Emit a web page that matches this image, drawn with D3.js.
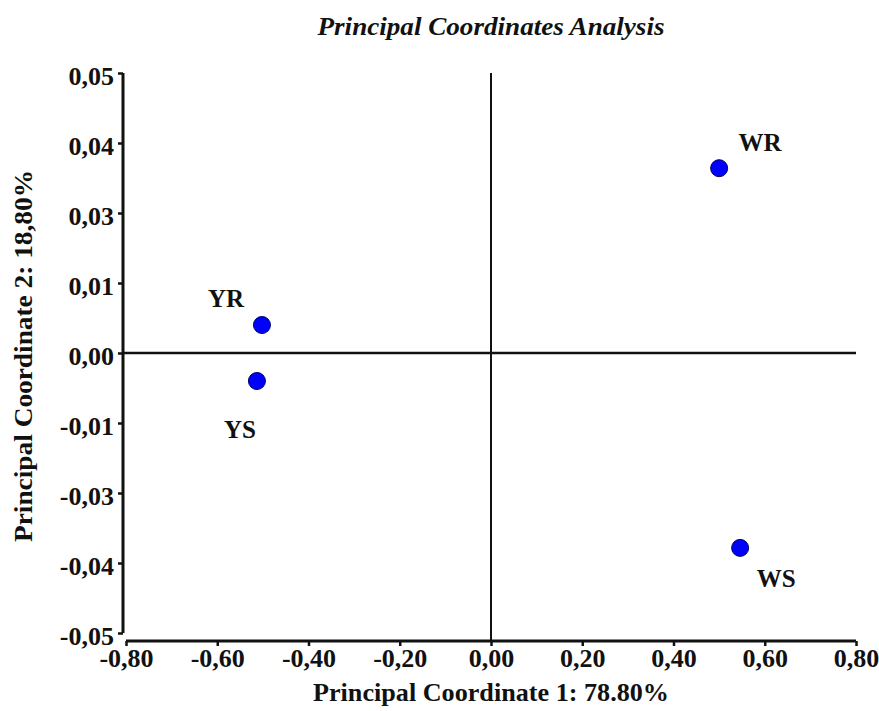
<!DOCTYPE html>
<html>
<head>
<meta charset="utf-8">
<script src="https://cdn.jsdelivr.net/npm/d3@7"></script>
<style>
  body { margin: 0; background: #fff; }
  text { font-family: "Liberation Serif", "Times New Roman", serif; font-weight: bold; fill: #111; }
</style>
</head>
<body>
<div id="chart"></div>
<script>
// sample names and their coordinates
const samples = ["WR", "WS", "YR", "YS"];
const pc1 = [0.50, 0.546, -0.502, -0.513];
const pc2 = [0.033, -0.0348, 0.005, -0.005];

// tick values and the labels printed on them
const xTicks = [-0.8, -0.6, -0.4, -0.2, 0, 0.2, 0.4, 0.6, 0.8];
const xTickLabels = ["-0,80", "-0,60", "-0,40", "-0,20", "0,00", "0,20", "0,40", "0,60", "0,80"];
const yTicks = [-0.05, -0.0375, -0.025, -0.0125, 0, 0.0125, 0.025, 0.0375, 0.05];
const yTickLabels = ["-0,05", "-0,04", "-0,03", "-0,01", "0,00", "0,01", "0,03", "0,04", "0,05"];

const width = 879, height = 711;

const svg = d3.select("#chart").append("svg")
  .attr("width", width)
  .attr("height", height);

const xScale = d3.scaleLinear().domain([-0.8, 0.8]).range([126, 856]);
const yScale = d3.scaleLinear().domain([-0.05, 0.05]).range([633, 73]);
const xAxisY = 641, yAxisX = 123;

// title
svg.append("text")
  .attr("x", 491).attr("y", 35)
  .attr("text-anchor", "middle")
  .attr("textLength", 347)
  .attr("lengthAdjust", "spacingAndGlyphs")
  .style("font-style", "italic")
  .style("font-size", "25px")
  .text("Principal Coordinates Analysis");

// y axis
const yAxis = svg.append("g")
  .attr("transform", `translate(${yAxisX},0)`)
  .call(d3.axisLeft(yScale).tickValues(yTicks).tickSize(5).tickPadding(4)
    .tickFormat((d, i) => yTickLabels[i]));

// x axis
const xAxis = svg.append("g")
  .attr("transform", `translate(0,${xAxisY})`)
  .call(d3.axisBottom(xScale).tickValues(xTicks).tickSize(5).tickPadding(3)
    .tickFormat((d, i) => xTickLabels[i]));

[xAxis, yAxis].forEach(ax => {
  ax.select(".domain").attr("stroke", "#111").attr("stroke-width", 3);
  ax.selectAll(".tick line").attr("stroke", "#111").attr("stroke-width", 2.5);
  ax.selectAll(".tick text")
    .style("font-family", "'Liberation Serif', serif")
    .style("font-weight", "bold")
    .style("font-size", "26px")
    .attr("fill", "#111");
});
yAxis.selectAll(".tick text").attr("dy", "0.45em");
// remove the outer end caps of the domain path
yAxis.select(".domain").attr("d", `M0,${yScale(0.05)}V${yScale(-0.05)}`);
xAxis.select(".domain").attr("d", `M${xScale(-0.8)},0H${xScale(0.8)}`);

// zero lines
svg.append("line")
  .attr("x1", xScale(0)).attr("x2", xScale(0))
  .attr("y1", yScale(0.05)).attr("y2", xAxisY)
  .attr("stroke", "#111").attr("stroke-width", 2);
svg.append("line")
  .attr("x1", yAxisX).attr("x2", xScale(0.8))
  .attr("y1", yScale(0)).attr("y2", yScale(0))
  .attr("stroke", "#111").attr("stroke-width", 2.5);

// axis titles
svg.append("text")
  .attr("x", 491).attr("y", 701)
  .attr("text-anchor", "middle")
  .attr("textLength", 356)
  .attr("lengthAdjust", "spacingAndGlyphs")
  .style("font-size", "25px")
  .text("Principal Coordinate 1: 78.80%");

svg.append("text")
  .attr("transform", `translate(32,356) rotate(-90)`)
  .attr("text-anchor", "middle")
  .attr("textLength", 372)
  .attr("lengthAdjust", "spacingAndGlyphs")
  .style("font-size", "25px")
  .text("Principal Coordinate 2: 18,80%");

// points
const points = samples.map((s, i) => ({ name: s, x: pc1[i], y: pc2[i] }));

svg.append("g").selectAll("circle")
  .data(points)
  .enter().append("circle")
  .attr("cx", d => xScale(d.x))
  .attr("cy", d => yScale(d.y))
  .attr("r", 8.5)
  .attr("fill", "#0000ff")
  .attr("stroke", "#000066")
  .attr("stroke-width", 1);

// labels sit at a fixed offset from their point
const labelOffset = {
  WR: [41, -17], WS: [36, 39], YR: [-36, -18], YS: [-17, 57]
};
svg.append("g").selectAll("text")
  .data(points)
  .enter().append("text")
  .attr("x", d => xScale(d.x) + labelOffset[d.name][0])
  .attr("y", d => yScale(d.y) + labelOffset[d.name][1])
  .attr("text-anchor", "middle")
  .style("font-size", "25px")
  .text(d => d.name);
</script>
</body>
</html>
